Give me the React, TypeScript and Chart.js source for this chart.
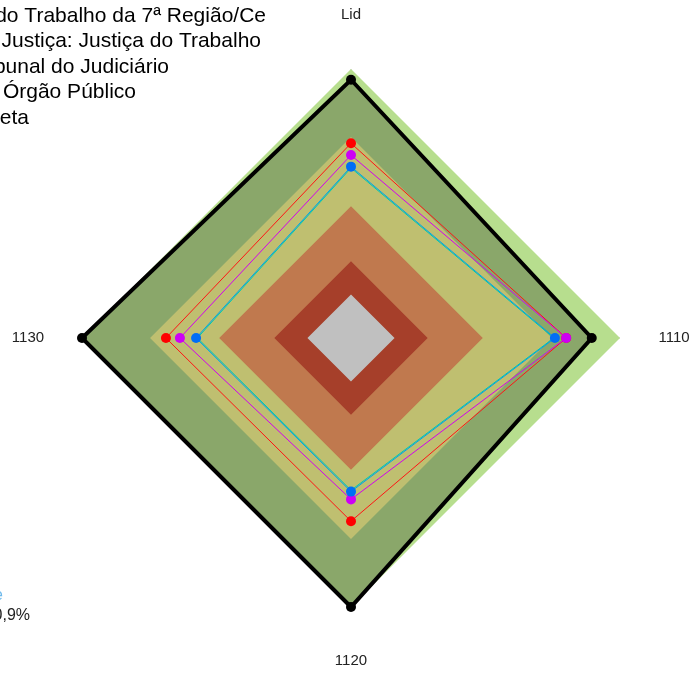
import React, { useEffect, useRef } from "react";
import { Chart, registerables } from "chart.js";

Chart.register(...registerables);

const categories = ["Lid", "1110", "1120", "1130"];

// background bands (faixas)
const bandFull = [1, 1, 1, 1];
const bandYellow = [0.747, 0.747, 0.747, 0.747];
const bandOrange = [0.49, 0.49, 0.49, 0.49];
const bandRed = [0.285, 0.285, 0.285, 0.285];
const bandGray = [0.162, 0.162, 0.162, 0.162];

// series
const metaValues = [0.96, 0.895, 1, 1];
const trtValues = [0.724, 0.8, 0.681, 0.688];
const segmentoValues = [0.68, 0.8, 0.6, 0.636];
const judiciarioValues = [0.637, 0.758, 0.571, 0.576];
const orgaoValues = [0.632, 0.754, 0.566, 0.571];

const legendLabels = [
  "Tribunal Regional do Trabalho da 7ª Região/Ce",
  "Segmento de Justiça: Justiça do Trabalho",
  "Tribunal do Judiciário",
  "Média Órgão Público",
  "Meta",
];

const overlayPlugin = {
  id: "overlay",
  afterDraw(chart: any) {
    const ctx = chart.ctx;
    const scale = chart.scales.r;
    ctx.save();
    // point labels
    ctx.font = "15px 'Liberation Sans', Arial, sans-serif";
    ctx.fillStyle = "#222";
    ctx.textAlign = "center";
    ctx.textBaseline = "middle";
    categories.forEach((c, i) => {
      const p = scale.getPointPosition(i, scale.drawingArea + 54);
      ctx.fillText(c, p.x, p.y);
    });
    // legend (partly off-canvas)
    ctx.font = "21px 'Liberation Sans', Arial, sans-serif";
    ctx.fillStyle = "#000";
    ctx.textAlign = "right";
    const ends = [266, 261, 169, 136, 29];
    legendLabels.forEach((t, i) => {
      ctx.fillText(t, ends[i], 16 + i * 25.5);
    });
    // bottom-left note
    ctx.font = "16px 'Liberation Sans', Arial, sans-serif";
    ctx.fillStyle = "rgb(110,185,235)";
    ctx.fillText("Índice", 3, 596);
    ctx.fillStyle = "#222";
    ctx.fillText("80,9%", 30, 616);
    ctx.restore();
  },
};

export default function App() {
  const ref = useRef<HTMLCanvasElement | null>(null);
  useEffect(() => {
    if (!ref.current) return;
    const band = (data: number[], color: string) => ({
      data,
      backgroundColor: color,
      borderWidth: 0,
      borderColor: "transparent",
      pointRadius: 0,
      fill: true,
    });
    const series = (data: number[], line: string, point: string, radius = 5) => ({
      data,
      borderColor: line,
      borderWidth: 1,
      backgroundColor: "transparent",
      pointBackgroundColor: point,
      pointBorderWidth: 0,
      pointRadius: radius,
      fill: false,
    });
    const chart = new Chart(ref.current, {
      type: "radar",
      data: {
        labels: categories,
        datasets: [
          { label: legendLabels[2], ...series(judiciarioValues, "rgb(0,160,235)", "rgb(0,110,245)") },
          { label: legendLabels[3], ...series(orgaoValues, "rgb(0,205,170)", "rgb(0,205,170)", 0) },
          { label: legendLabels[1], ...series(segmentoValues, "rgb(210,0,240)", "rgb(205,0,245)") },
          { label: legendLabels[0], ...series(trtValues, "rgb(255,20,20)", "rgb(255,0,0)") },
          {
            label: legendLabels[4],
            data: metaValues,
            borderColor: "#000",
            borderWidth: 4,
            backgroundColor: "transparent",
            pointBackgroundColor: "#000",
            pointBorderWidth: 0,
            pointRadius: 5,
            fill: false,
          },
          { label: "Faixa 1", ...band(bandGray, "rgb(192,192,192)") },
          { label: "Faixa 2", ...band(bandRed, "rgb(166,63,42)") },
          { label: "Faixa 3", ...band(bandOrange, "rgb(192,121,78)") },
          { label: "Faixa 4", ...band(bandYellow, "rgb(191,191,112)") },
          { label: "Faixa 5", ...band(metaValues, "rgb(138,167,106)") },
          { label: "Faixa 6", ...band(bandFull, "rgb(183,222,142)") },
        ],
      },
      options: {
        responsive: false,
        animation: false,
        layout: { padding: { left: 82, right: 75, top: 69, bottom: 66 } },
        elements: { line: { tension: 0 } },
        plugins: { legend: { display: false }, tooltip: { enabled: false } },
        scales: {
          r: {
            min: 0,
            max: 1,
            z: 1,
            ticks: { display: false },
            grid: { display: false },
            angleLines: { display: true, color: "rgba(150,150,150,0.6)", lineWidth: 1 },
            pointLabels: { display: false },
          },
        },
      },
      plugins: [overlayPlugin],
    });
    return () => chart.destroy();
  }, []);
  return (
    <div style={{ position: "fixed", left: 0, top: 0, width: 695, height: 673, background: "#fff" }}>
      <canvas ref={ref} width={695} height={673} style={{ display: "block" }} />
    </div>
  );
}
